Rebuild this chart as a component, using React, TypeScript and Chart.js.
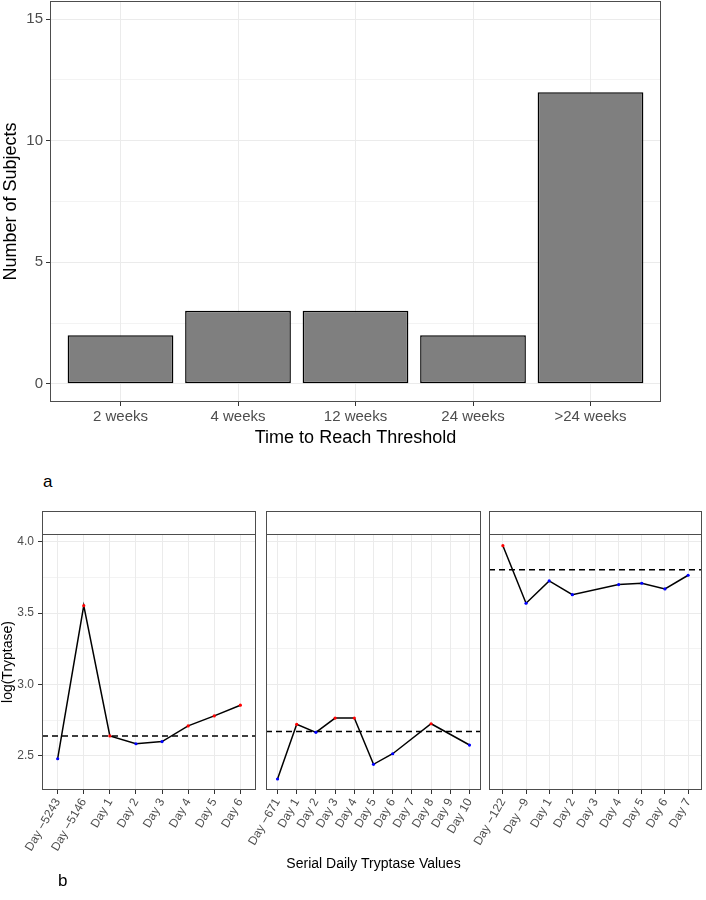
import React, { useEffect, useRef } from "react";
import { Chart, registerables } from "chart.js";

Chart.register(...registerables);

const FONT = "'Liberation Sans', Arial, sans-serif";

// ---- Panel a data ----
const barCategories = ["2 weeks", "4 weeks", "12 weeks", "24 weeks", ">24 weeks"];
const barValues = [2, 3, 3, 2, 12];
const barMajorTicks = [0, 5, 10, 15];
const barMinorTicks = [2.5, 7.5, 12.5];
const barYMin = -0.75;
const barYMax = 15.75;

// ---- Panel b data ----
const tryMajorTicks = [2.5, 3.0, 3.5, 4.0];
const tryMinorTicks = [2.75, 3.25, 3.75];
const tryYMin = 2.261;
const tryYMax = 4.054;

const p1Labels = ["Day \u22125243", "Day \u22125146", "Day 1", "Day 2", "Day 3", "Day 4", "Day 5", "Day 6"];
const p1Values = [2.48, 3.552, 2.64, 2.585, 2.6, 2.71, 2.78, 2.855];
const p1Colors = ["blue", "red", "red", "blue", "blue", "red", "red", "red"];
const p1Threshold = 2.64;

const p2Labels = ["Day \u2212671", "Day 1", "Day 2", "Day 3", "Day 4", "Day 5", "Day 6", "Day 7", "Day 8", "Day 9", "Day 10"];
const p2Values = [2.338, 2.721, 2.665, 2.765, 2.765, 2.441, 2.515, null, 2.725, null, 2.576];
const p2Colors = ["blue", "red", "blue", "red", "red", "blue", "blue", "blue", "red", "blue", "blue"];
const p2Threshold = 2.67;

const p3Labels = ["Day \u2212122", "Day \u22129", "Day 1", "Day 2", "Day 3", "Day 4", "Day 5", "Day 6", "Day 7"];
const p3Values = [3.972, 3.569, 3.725, 3.629, null, 3.7, 3.709, 3.669, 3.765];
const p3Colors = ["red", "blue", "blue", "blue", "blue", "blue", "blue", "blue", "blue"];
const p3Threshold = 3.804;

const colorMap: Record<string, string> = { red: "#ff0000", blue: "#0000ff" };

const panelFrame = {
  id: "panelFrame",
  afterDatasetsDraw(chart: any, _args: any, opts: any) {
    const { ctx, chartArea } = chart;
    const { left, top, right, bottom } = chartArea;
    ctx.save();
    ctx.strokeStyle = "#4d4d4d";
    ctx.lineWidth = 1;
    ctx.strokeRect(Math.round(left) + 0.5, Math.round(top) + 0.5, Math.round(right - left) - 1, Math.round(bottom - top) - 1);
    if (opts && opts.strip) {
      const h = opts.strip;
      ctx.fillStyle = "#ffffff";
      ctx.fillRect(Math.round(left), Math.round(top) - h, Math.round(right - left), h);
      ctx.strokeRect(Math.round(left) + 0.5, Math.round(top) - h + 0.5, Math.round(right - left) - 1, h);
    }
    ctx.restore();
  },
};

function isIn(list: number[], v: number) {
  return list.some((t) => Math.abs(t - v) < 1e-6);
}

function fixPad(s: any) {
  s.paddingTop = 0;
  s.paddingBottom = 0;
  s.paddingLeft = 0;
  s.paddingRight = 0;
}

function BarChart() {
  const ref = useRef<HTMLCanvasElement>(null);
  useEffect(() => {
    const allTicks = [...barMajorTicks, ...barMinorTicks].sort((a, b) => a - b);
    const chart = new Chart(ref.current!, {
      type: "bar",
      data: {
        datasets: [
          {
            data: barValues.map((v, i) => ({ x: i + 1, y: v })),
            backgroundColor: "#7f7f7f",
            borderColor: "#000000",
            borderWidth: 1.5,
            borderSkipped: false,
            barPercentage: 0.9,
            categoryPercentage: 1,
          } as any,
        ],
      },
      options: {
        animation: false,
        responsive: false,
        layout: { padding: { left: 0, right: 45, top: 1, bottom: 0 } },
        plugins: { legend: { display: false }, tooltip: { enabled: false }, panelFrame: {} } as any,
        scales: {
          x: {
            type: "linear",
            offset: false,
            min: 0.4,
            max: barCategories.length + 0.6,
            afterBuildTicks: (s: any) => {
              s.ticks = barCategories.map((_, i) => ({ value: i + 1 }));
            },
            afterFit: (s: any) => {
              s.height = 48;
              fixPad(s);
            },
            ticks: {
              callback: (v: any) => barCategories[Math.round(Number(v)) - 1] ?? "",
              font: { family: FONT, size: 15 },
              color: "#4d4d4d",
              maxRotation: 0,
              minRotation: 0,
              autoSkip: false,
              padding: 2,
            },
            grid: { offset: false, color: "#ebebeb", tickColor: "#333333", tickLength: 4, lineWidth: 1 },
            border: { display: false },
            title: {
              display: true,
              text: "Time to Reach Threshold",
              font: { family: FONT, size: 18 },
              color: "#000000",
              padding: { top: 0, bottom: 1 },
            },
          },
          y: {
            type: "linear",
            min: barYMin,
            max: barYMax,
            afterBuildTicks: (s: any) => {
              s.ticks = allTicks.map((v) => ({ value: v }));
            },
            afterFit: (s: any) => {
              s.width = 50;
              fixPad(s);
            },
            ticks: {
              callback: (v: any) => (isIn(barMajorTicks, Number(v)) ? String(v) : ""),
              font: { family: FONT, size: 15 },
              color: "#4d4d4d",
              padding: 3,
            },
            grid: {
              color: "#ebebeb",
              lineWidth: (c: any) => (c.tick && isIn(barMinorTicks, c.tick.value) ? 0.6 : 1),
              tickColor: (c: any) => (c.tick && isIn(barMinorTicks, c.tick.value) ? "rgba(0,0,0,0)" : "#333333"),
              tickLength: 4,
            },
            border: { display: false },
            title: {
              display: true,
              text: "Number of Subjects",
              font: { family: FONT, size: 18 },
              color: "#000000",
              padding: { top: 0, bottom: 0 },
            },
          },
        },
      } as any,
      plugins: [panelFrame as any],
    });
    return () => chart.destroy();
  }, []);
  return (
    <canvas
      ref={ref}
      width={706}
      height={450}
      style={{ position: "absolute", left: 0, top: 0, width: 706, height: 450, display: "block" }}
    />
  );
}

type PanelProps = {
  labels: string[];
  values: (number | null)[];
  colors: string[];
  threshold: number;
  left: number;
  width: number;
  padLeft: number;
  padRight: number;
  showY: boolean;
  xTitle?: string;
};

function TryptasePanel(props: PanelProps) {
  const ref = useRef<HTMLCanvasElement>(null);
  useEffect(() => {
    const { labels, values, colors, threshold, padLeft, padRight, showY, xTitle } = props;
    const n = labels.length;
    const allTicks = [...tryMajorTicks, ...tryMinorTicks].sort((a, b) => a - b);
    const chart = new Chart(ref.current!, {
      type: "line",
      data: {
        datasets: [
          {
            data: values.map((v, i) => ({ x: i + 1, y: v })),
            borderColor: "#000000",
            borderWidth: 1.5,
            tension: 0,
            spanGaps: true,
            pointRadius: 1.6,
            pointBorderWidth: 0,
            pointBackgroundColor: colors.map((c) => colorMap[c]),
            pointBorderColor: colors.map((c) => colorMap[c]),
          } as any,
          {
            data: [
              { x: 0.4, y: threshold },
              { x: n + 0.6, y: threshold },
            ],
            borderColor: "#000000",
            borderWidth: 1.5,
            borderDash: [6, 4],
            pointRadius: 0,
            tension: 0,
          } as any,
        ],
      },
      options: {
        animation: false,
        responsive: false,
        layout: { padding: { left: padLeft, right: padRight, top: 34, bottom: 0 } },
        plugins: { legend: { display: false }, tooltip: { enabled: false }, panelFrame: { strip: 23 } } as any,
        scales: {
          x: {
            type: "linear",
            offset: false,
            min: 0.4,
            max: n + 0.6,
            afterBuildTicks: (s: any) => {
              s.ticks = labels.map((_, i) => ({ value: i + 1 }));
            },
            afterFit: (s: any) => {
              s.height = 110;
              fixPad(s);
            },
            ticks: {
              callback: (v: any) => labels[Math.round(Number(v)) - 1] ?? "",
              font: { family: FONT, size: 12 },
              color: "#4d4d4d",
              maxRotation: 60,
              minRotation: 60,
              autoSkip: false,
              padding: 2,
            },
            grid: { color: "#ebebeb", tickColor: "#333333", tickLength: 4, lineWidth: 1 },
            border: { display: false },
            title: {
              display: !!xTitle,
              text: xTitle || "",
              font: { family: FONT, size: 14 },
              color: "#000000",
              padding: { top: 0, bottom: 27.6 },
            },
          },
          y: {
            type: "linear",
            min: tryYMin,
            max: tryYMax,
            afterBuildTicks: (s: any) => {
              s.ticks = allTicks.map((v) => ({ value: v }));
            },
            afterFit: (s: any) => {
              s.width = showY ? 42 : 0;
              fixPad(s);
            },
            ticks: {
              display: showY,
              callback: (v: any) => (isIn(tryMajorTicks, Number(v)) ? Number(v).toFixed(1) : ""),
              font: { family: FONT, size: 12 },
              color: "#4d4d4d",
              padding: 4,
            },
            grid: {
              color: "#ebebeb",
              drawTicks: showY,
              lineWidth: (c: any) => (c.tick && isIn(tryMinorTicks, c.tick.value) ? 0.6 : 1),
              tickColor: (c: any) => (c.tick && isIn(tryMinorTicks, c.tick.value) ? "rgba(0,0,0,0)" : "#333333"),
              tickLength: 4,
            },
            border: { display: false },
            title: {
              display: showY,
              text: "log(Tryptase)",
              font: { family: FONT, size: 14 },
              color: "#000000",
              padding: { top: 0, bottom: 0 },
            },
          },
        },
      } as any,
      plugins: [panelFrame as any],
    });
    return () => chart.destroy();
  }, []);
  return (
    <canvas
      ref={ref}
      width={props.width}
      height={400}
      style={{ position: "absolute", left: props.left, top: 500, width: props.width, height: 400, display: "block" }}
    />
  );
}

export default function App() {
  return (
    <div style={{ position: "absolute", left: 0, top: 0, width: 706, height: 900, background: "#ffffff", overflow: "hidden" }}>
      <BarChart />
      <div style={{ position: "absolute", left: 43, top: 472, fontFamily: FONT, fontSize: 17, lineHeight: "20px", color: "#000" }}>a</div>
      <TryptasePanel
        labels={p1Labels}
        values={p1Values}
        colors={p1Colors}
        threshold={p1Threshold}
        left={0}
        width={260}
        padLeft={0}
        padRight={3}
        showY={true}
      />
      <TryptasePanel
        labels={p2Labels}
        values={p2Values}
        colors={p2Colors}
        threshold={p2Threshold}
        left={200}
        width={285}
        padLeft={66}
        padRight={4}
        showY={false}
        xTitle="Serial Daily Tryptase Values"
      />
      <TryptasePanel
        labels={p3Labels}
        values={p3Values}
        colors={p3Colors}
        threshold={p3Threshold}
        left={425}
        width={281}
        padLeft={64}
        padRight={1}
        showY={false}
      />
      <div style={{ position: "absolute", left: 58, top: 871, fontFamily: FONT, fontSize: 17, lineHeight: "20px", color: "#000" }}>b</div>
    </div>
  );
}
